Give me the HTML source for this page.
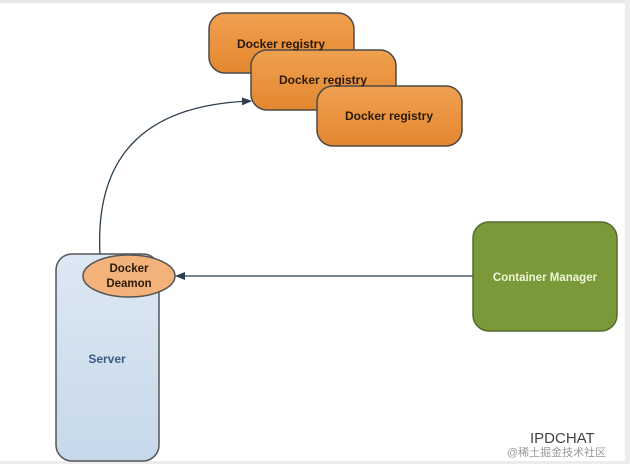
<!DOCTYPE html>
<html><head><style>
body{margin:0;background:#fff;}
svg{display:block;}
text{font-family:"Liberation Sans",sans-serif;font-weight:bold;}
</style></head><body>
<svg width="630" height="464" viewBox="0 0 630 464">
<defs>
<linearGradient id="o" x1="0" y1="0" x2="0" y2="1"><stop offset="0" stop-color="#f0a050"/><stop offset="1" stop-color="#e4872f"/></linearGradient>
<linearGradient id="s" x1="0" y1="0" x2="0" y2="1"><stop offset="0" stop-color="#dde8f3"/><stop offset="1" stop-color="#c6d8ea"/></linearGradient>
<marker id="a" markerWidth="10" markerHeight="8" refX="9" refY="4" orient="auto" markerUnits="userSpaceOnUse"><path d="M0,0 L10,4 L0,8 z" fill="#2c3e50"/></marker>
</defs>
<rect x="0" y="0" width="630" height="3" fill="#e6e6e6"/>
<rect x="625" y="0" width="5" height="464" fill="#ececec"/>
<rect x="0" y="461" width="630" height="3" fill="#ececec"/>
<g stroke="#4a4a4a" stroke-width="1.5">
<rect x="209" y="13" width="145" height="60" rx="16" fill="url(#o)"/>
<rect x="251" y="50" width="145" height="60" rx="16" fill="url(#o)"/>
<rect x="317" y="86" width="145" height="60" rx="16" fill="url(#o)"/>
</g>
<text x="281" y="48" font-size="12" text-anchor="middle" fill="#2b1a0a">Docker registry</text>
<text x="323" y="84" font-size="12" text-anchor="middle" fill="#2b1a0a">Docker registry</text>
<text x="389" y="120" font-size="12" text-anchor="middle" fill="#2b1a0a">Docker registry</text>
<path d="M100,255 C95,160 140,105 251,101" fill="none" stroke="#2c3e50" stroke-width="1.3" marker-end="url(#a)"/>
<rect x="56" y="254" width="103" height="207" rx="16" fill="url(#s)" stroke="#555" stroke-width="1.5"/>
<text x="107" y="363" font-size="12" text-anchor="middle" fill="#3a5a85">Server</text>
<ellipse cx="129" cy="276" rx="46" ry="21" fill="#f2b27a" stroke="#555" stroke-width="1.5"/>
<text x="129" y="272" font-size="11.5" text-anchor="middle" fill="#2b1a0a">Docker</text>
<text x="129" y="287" font-size="11.5" text-anchor="middle" fill="#2b1a0a">Deamon</text>
<line x1="473" y1="276" x2="176" y2="276" stroke="#2c3e50" stroke-width="1.3" marker-end="url(#a)"/>
<rect x="473" y="222" width="144" height="109" rx="16" fill="#7a9a3a" stroke="#556b2f" stroke-width="1.5"/>
<text x="545" y="281" font-size="11.5" text-anchor="middle" fill="#eef5d8">Container Manager</text>
<text x="530" y="443" font-size="15" fill="#444" style="font-weight:normal">IPDCHAT</text>
<text x="507" y="456" font-size="11" fill="#999" style="font-weight:normal;font-family:'Liberation Sans','Noto Sans CJK SC',sans-serif">@稀土掘金技术社区</text>
</svg>
</body></html>
